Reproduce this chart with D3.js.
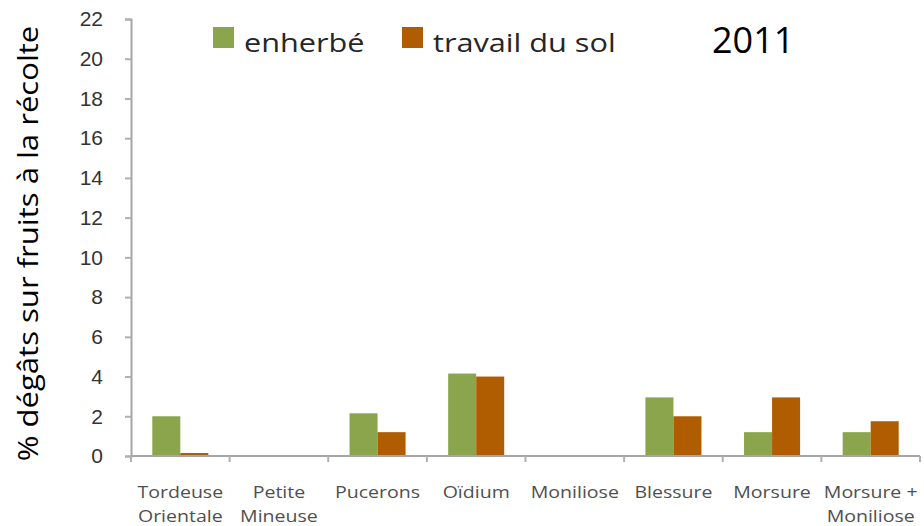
<!DOCTYPE html>
<html>
<head>
<meta charset="utf-8">
<script src="https://cdnjs.cloudflare.com/ajax/libs/d3/7.8.5/d3.min.js"></script>
<style>
  body { margin: 0; background: #fff; }
  svg { display: block; font-family: "Open Sans", sans-serif; }
</style>
</head>
<body>
<div id="chart"></div>
<script>
    // data
    var categories = [["Tordeuse", "Orientale"], ["Petite", "Mineuse"], ["Pucerons"], ["Oïdium"],
                      ["Moniliose"], ["Blessure"], ["Morsure"], ["Morsure +", "Moniliose"]];
    var seriesNames = ["enherbé", "travail du sol"];
    var enherbe = [2.0, 0, 2.15, 4.15, 0, 2.95, 1.2, 1.2];
    var travailSol = [0.15, 0, 1.2, 4.0, 0, 2.0, 2.95, 1.75];
    var yTicks = [0, 2, 4, 6, 8, 10, 12, 14, 16, 18, 20, 22];
    var colors = ["#8aa54b", "#b05c00"];

    var w = 924,
        h = 526,
        plotLeft = 131,
        plotRight = 920,
        plotTop = 19,
        plotBottom = 456;

    var svg = d3.select("#chart")
        .append("svg")
        .attr("width", w)
        .attr("height", h);

    var x0 = d3.scaleBand()
        .domain(d3.range(categories.length))
        .range([plotLeft, plotRight]);

    // two bars centered in each category
    var x1 = d3.scaleBand()
        .domain([0, 1])
        .range([0, x0.bandwidth()])
        .paddingOuter(0.76);

    var y = d3.scaleLinear()
        .domain([0, 22])
        .range([plotBottom, plotTop]);

    // y axis
    var yAxis = d3.axisLeft(y)
        .tickValues(yTicks)
        .tickSize(6)
        .tickPadding(22);

    var gy = svg.append("g")
        .attr("transform", "translate(" + plotLeft + ",0)")
        .call(yAxis);
    gy.select(".domain").attr("stroke", "#a6a6a6").attr("stroke-width", 2);
    gy.selectAll(".tick line").attr("stroke", "#b0b0b0").attr("stroke-width", 2);
    gy.selectAll(".tick text")
        .attr("fill", "#333")
        .style("font-size", "21px");

    // bars
    var data = [enherbe, travailSol];
    data.forEach(function(vals, s) {
        svg.append("g").selectAll("rect")
            .data(vals)
            .enter().append("rect")
            .attr("x", function(d, i) { return x0(i) + x1(s); })
            .attr("y", function(d) { return y(d); })
            .attr("width", x1.bandwidth())
            .attr("height", function(d) { return plotBottom - y(d); })
            .attr("fill", colors[s]);
    });

    // x axis with ticks at category boundaries
    var bounds = d3.range(categories.length + 1).map(function(i) {
        return i < categories.length ? x0(i) : plotRight;
    });
    var gx = svg.append("g");
    gx.append("line")
        .attr("x1", plotLeft).attr("x2", plotRight)
        .attr("y1", plotBottom).attr("y2", plotBottom)
        .attr("stroke", "#a6a6a6").attr("stroke-width", 2);
    gx.selectAll(".xt")
        .data(bounds)
        .enter().append("line")
        .attr("x1", function(d) { return d; })
        .attr("x2", function(d) { return d; })
        .attr("y1", plotBottom).attr("y2", plotBottom + 6)
        .attr("stroke", "#b0b0b0").attr("stroke-width", 2);

    // category labels, stretched a bit sideways like the original
    categories.forEach(function(lines, i) {
        lines.forEach(function(line, k) {
            gx.append("text")
                .attr("transform", "translate(" + (x0(i) + x0.bandwidth() / 2) + "," + (498 + k * 24) + ") scale(1.15,1)")
                .attr("text-anchor", "middle")
                .attr("fill", "#505050")
                .style("font-size", "17px")
                .text(line);
        });
    });

    // y title, stretched along its length
    svg.append("text")
        .attr("transform", "translate(38," + ((plotTop + plotBottom) / 2 + 6) + ") rotate(-90) scale(1.11,1)")
        .attr("text-anchor", "middle")
        .attr("fill", "#000")
        .style("font-size", "28px")
        .text("% dégâts sur fruits à la récolte");

    // legend
    var legendX = [213, 402];
    seriesNames.forEach(function(name, s) {
        svg.append("rect")
            .attr("x", legendX[s]).attr("y", 27)
            .attr("width", 21).attr("height", 21)
            .attr("fill", colors[s]);
        svg.append("text")
            .attr("transform", "translate(" + (legendX[s] + 31) + ",52) scale(1.18,1)")
            .attr("fill", "#262626")
            .style("font-size", "26px")
            .text(name);
    });

    svg.append("text")
        .attr("x", 712).attr("y", 53)
        .attr("fill", "#000")
        .style("font-size", "36px")
        .text("2011");
</script>
</body>
</html>
